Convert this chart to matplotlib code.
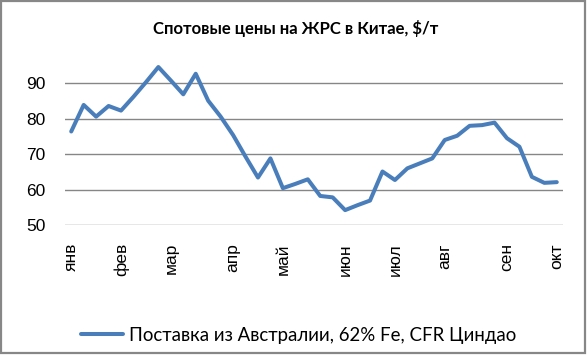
import matplotlib
matplotlib.use("Agg")
import matplotlib.pyplot as plt
from matplotlib.patches import Rectangle

# --- data ---
prices = [76.4, 83.9, 80.6, 83.6, 82.3, 86.2, 90.3, 94.6, 90.8, 86.9,
          92.7, 85.1, 80.6, 75.4, 69.3, 63.4, 68.8, 60.4, 61.6, 62.9,
          58.2, 57.8, 54.2, 55.6, 56.9, 65.1, 62.7, 66.0, 67.4, 68.8,
          74.0, 75.2, 78.0, 78.2, 78.9, 74.5, 72.1, 63.6, 61.9, 62.1]
month_labels = ["янв", "фев", "мар", "апр", "май", "июн", "июл", "авг", "сен", "окт"]
month_idx = [0, 4, 8, 13, 17, 22, 26, 30, 35, 39]
y_ticks = [50, 60, 70, 80, 90]
series_name = "Поставка из Австралии, 62% Fe, CFR Циндао"
title = "Спотовые цены на ЖРС в Китае, $/т"

W, H = 587, 355
fig = plt.figure(figsize=(W / 100, H / 100), dpi=100)
fig.patch.set_facecolor("white")

ax = fig.add_axes([65 / W, (H - 225) / H, (563 - 65) / W, (225 - 47.9) / H])
x = list(range(len(prices)))
line, = ax.plot(x, prices, color="#4A7EBB", lw=2.9, solid_joinstyle="round",
                solid_capstyle="round", label=series_name, zorder=3)

ax.set_xlim(-0.5, len(prices) - 0.5)
ax.set_ylim(50, 100)
ax.set_yticks(y_ticks)
ax.set_yticklabels([str(v) for v in y_ticks])
ax.set_xticks(month_idx)
ax.set_xticklabels(month_labels, rotation=90)
for sp in ax.spines.values():
    sp.set_visible(False)
ax.grid(axis="y", color="#868686", lw=1.0)
ax.set_axisbelow(True)
ax.tick_params(axis="y", length=0, pad=14, labelsize=12.5, labelcolor="black")
ax.tick_params(axis="x", length=0, pad=13, labelsize=12.5, labelcolor="black")
for lab in ax.get_xticklabels() + ax.get_yticklabels():
    lab.set_family(["Liberation Sans", "DejaVu Sans"])

calibri_like = ["Lato", "Open Sans", "DejaVu Sans"]
fig.text(296 / W, (H - 28.5) / H, title, ha="center", va="center",
         fontsize=12, fontweight="bold", family=calibri_like)

leg = fig.legend(handles=[line], loc="center left",
                 bbox_to_anchor=(80.5 / W, (H - 335) / H),
                 frameon=False, borderpad=0, borderaxespad=0,
                 handlelength=2.3, handletextpad=0.3,
                 prop={"family": calibri_like, "size": 13.4})

fig.patches.append(Rectangle((1 / W, 2.5 / H), 584 / W, 351.5 / H,
                             transform=fig.transFigure, fill=False,
                             edgecolor="#878787", lw=1.6, zorder=10))

fig.savefig("out.png", dpi=100)
